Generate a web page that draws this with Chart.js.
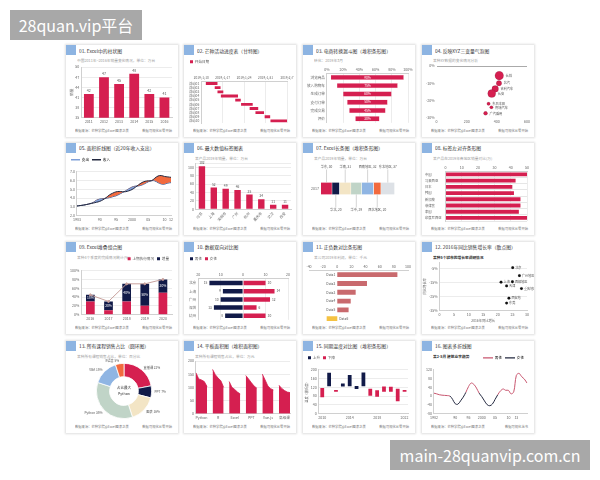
<!DOCTYPE html>
<html><head><meta charset="utf-8">
<script src="https://cdn.jsdelivr.net/npm/chart.js@4.4.1/dist/chart.umd.min.js"></script>
<style>
html,body{margin:0;padding:0;background:#fff;width:600px;height:480px;overflow:hidden;font-family:"Noto Sans CJK SC","Noto Sans",sans-serif}
.card{position:absolute;width:112px;height:92px;background:#fff;box-shadow:0 0 2px 1px rgba(0,0,0,0.13)}
.sq{position:absolute;left:0;top:0;width:10px;height:10px;background:#8db4e2}
.t{position:absolute;left:13px;top:1px;font-size:6px;line-height:9px;color:#333;white-space:nowrap;transform:scale(0.8);transform-origin:0 50%}
.s{position:absolute;left:11px;top:12px;font-size:6px;line-height:7px;color:#a0a0a0;white-space:nowrap;transform:scale(0.62);transform-origin:0 50%}
.card canvas{position:absolute;left:0;top:11px}
.fl{position:absolute;left:9px;top:82px;font-size:6px;line-height:7px;color:#777;white-space:nowrap;transform:scale(0.55);transform-origin:0 50%}
.fr{position:absolute;right:6px;top:82px;font-size:6px;line-height:7px;color:#777;white-space:nowrap;transform:scale(0.55);transform-origin:100% 50%}
.wm{position:absolute;background:#a8a8a8;color:#fff;font-family:"Noto Sans CJK SC","Noto Sans",sans-serif;font-size:16px;line-height:30px;text-align:center;white-space:nowrap}
</style></head><body>
<div class="wm" style="left:10px;top:10px;width:132px;height:30px">28quan.vip平台</div>
<div class="wm" style="left:390px;top:440px;width:200px;height:30px">main-28quanvip.com.cn</div>
<script>
// ---------- data ----------
const c1Years=['2011','2012','2013','2014','2015','2016'];
const c1Sales=[42,47,45,48,42,41];

const c2Tasks=['活动01','活动02','活动03','活动04','活动05','活动06','活动07','活动08','活动09','活动10'];
const c2Start=[1.5,4.4,5.3,6.4,11.1,13,15.8,17.7,20.7,22.6];
const c2End=[5.3,6.3,7.2,12,12.9,16.8,18.6,20.5,22.5,28.2];
const c2DateTicks=['2019/1/10','2019/1/17','2019/1/24','2019/1/31','2019/2/7'];

const c3Steps=['浏览商品','放入购物车','生成订单','支付订单','完成交易','评价'];
const c3Rates=[90,75,60,50,45,30];

const c4Names=['长城','北汽','吉利汽车','长安','东风本田','奇瑞汽车','广汽乘用'];
const c4X=[416,414,389,366,345,364,325];
const c4Y=[-5.6,-10,-13.3,-16,-21.9,-24,-27.5];
const c4Size=[4.3,2.7,3.3,4,1.7,1.7,2];

const c5Labels=['1983','','','','','','','90','','','','','95','','','','','2000','','','','','05','','','','','10','','12'];
const c5Income=[3.10,3.15,3.20,3.27,3.35,3.43,3.52,3.62,3.80,4.05,4.35,4.55,4.70,4.75,4.72,4.72,4.82,4.97,5.22,5.50,5.75,5.90,5.95,5.97,6.25,6.50,6.55,6.45,6.40,6.35];
const c5Expense=[3.10,3.15,3.20,3.27,3.37,3.50,3.75,3.88,3.93,3.98,4.05,4.15,4.25,4.42,4.62,4.82,5.05,5.25,5.35,5.38,5.48,5.65,5.85,5.97,5.95,5.75,5.60,5.58,5.70,5.75];

const c6Cities=['北京','上海','深圳市','广州','杭州','重庆市','武汉','西安'];
const c6Sales=[102,52,49,46,35,24,11,11];

const c7Regions=['华东','华北','华南','华中','西南地区','西北地区','东北地区'];
const c7Sales=[30,20,31,29,32,20,37];

const c8Names=['中国','马来西亚','日本','韩国','新加坡','菲律宾','泰国','印度尼西亚'];
const c8Sales=[50,43,41,42,46,46,45,50];

const c9Cats=['2016','2017','2018','2019','2020'];
const c9Base=[30,10,30,20,50];
const c9Add=[15,20,40,50,30];
const c9Total=[45,30,70,70,80];

const c10Cats=['北京','上海','广州','深圳','杭州'];
const c10Male=[-15,-9,-10,-13,-8];
const c10Female=[10,14,12,6,10];

const c11Items=['Data1','Data2','Data3','Data4','Data5','Data6'];
const c11Profit=[85,42,26,19,16,-15];

const c12Cities=['北京','广州地区','上海','西部地区','天津','重庆地区','西安地','东莞'];
const c12X=[25.1,27.4,21.1,25,23,28.1,23.8,23];
const c12Y=[-4.1,-9.8,-14.5,-14.2,-17.2,-19.1,-26,-29.5];

const c13Courses=['直播课','PPT','图表','Python','VBA','R语言'];
const c13Share=[22,7,16,35,15,5];

const c14Labels=['','','Python','','','', '','','R','','','', '','','Excel','','','', '','','PPT','','','', '','','Vue.js','','','', '','','高级课','',''];
const c14Vals=[155,132,128,122,103,null, 168,148,135,125,100,null, 122,100,92,82,75,null, 145,132,118,105,97,null, 150,128,105,95,90,null, 108,96,88,82,80];

const c15Years=['2010','2011','2012','2013','2014','2015','2016','2017','2018','2019','2020','2021','2022'];
const c15Rise=[null,[125,186],null,[123,137],[125,176],[112,126],[125,187],null,null,null,null,null,null];
const c15Fall=[[74,116],null,[99,108],null,null,null,null,[81,113],[77,106],[99,123],[99,122],[56,113],[99,108]];

const c16Years=['1982','1983','1984','1985','1986','1987','1988','1989','1990','1991','1992','1993','1994','1995','1996','1997','1998','1999','2000','2001','2002','2003','2004','2005','2006','2007','2008','2009','2010','2011','2012','2013','2014','2015','2016','2017'];
const c16TickText={0:'1982',8:'90',13:'95',18:'2000',23:'05',28:'10',31:'13'};
const c16Vals=[13,10,6,4,3,2,0,-15,-35,-37,-22,-5,17,43,59,53,36,13,-3,-22,-39,-44,-36,-15,6,23,32,26,26,10,19,94,103,88,77,59];

// ---------- styles ----------
const RED='#d51f50',NAVY='#111a48',BEIGE='#f3e5c5',SAGE='#c0d4c7',LBLUE='#8fb5e3',ORANGE='#f26a3e',LGRAY='#dde1e6';
const ROSE='#c8566f',DARK='#23283f',YEL='#f5c242',SALMON='#c96a6e';
const FONT='"Noto Sans CJK SC","Noto Sans",sans-serif';
const FS=3.6;
Chart.defaults.font.family=FONT;
Chart.defaults.font.size=FS;
Chart.defaults.color='#666';

function merge(a,b){for(const k in b){const v=b[k];if(v&&typeof v==='object'&&!Array.isArray(v)&&typeof v!=='function'){a[k]=merge(a[k]&&typeof a[k]==='object'?a[k]:{},v);}else a[k]=v;}return a;}
function AX(o){return merge({grid:{color:'#ececec',tickLength:2,drawTicks:false},border:{color:'#d0d0d0'},ticks:{font:{size:FS},color:'#666',padding:2}},o||{});}
function base(o){return merge({responsive:false,animation:false,maintainAspectRatio:false,layout:{padding:{top:9,right:4,bottom:1,left:2}},plugins:{legend:{display:false},tooltip:{enabled:false}}},o||{});}
function txt(ctx,s,x,y,o){o=o||{};ctx.save();ctx.font=(o.weight||'')+' '+(o.size||FS)+'px '+FONT;ctx.fillStyle=o.color||'#555';ctx.textAlign=o.align||'center';ctx.textBaseline=o.base||'middle';ctx.fillText(String(s),x,y);ctx.restore();}
const legSmall={display:true,align:'start',labels:{boxWidth:3,boxHeight:3,font:{size:FS},padding:3,color:'#555'}};

const COLX=[66,184,303,422],ROWY=[45,143,242,341];
function card(col,row,title,sub,cfg,opt){opt=opt||{};
 const d=document.createElement('div');d.className='card';d.style.left=COLX[col]+'px';d.style.top=ROWY[row]+'px';
 d.innerHTML='<div class="sq"></div><div class="t">'+title+'</div>'+(sub?'<div class="s" style="'+(opt.subStyle||'')+'">'+sub+'</div>':'')+
 '<canvas width="112" height="71"></canvas><div class="fl">数据来源：芒种学院@Excel图表之美</div><div class="fr">'+(opt.right||'数据可视化从零开始')+'</div>';
 document.body.appendChild(d);new Chart(d.querySelector('canvas'),cfg);}

// 01
card(0,0,'01. Excel中的柱状图','中国2011年~2016年销量变化情况，单位：万台',{type:'bar',
 data:{labels:c1Years,datasets:[{data:c1Sales,backgroundColor:RED,barPercentage:0.72,categoryPercentage:0.9}]},
 options:base({layout:{padding:{top:11,right:6,left:3}},scales:{x:AX({grid:{display:false}}),y:AX({min:35,max:50,ticks:{stepSize:3},title:{display:true,text:'销量',font:{size:FS},padding:0}})}}),
 plugins:[{id:'l1',afterDatasetsDraw(c){c.getDatasetMeta(0).data.forEach((e,i)=>txt(c.ctx,c1Sales[i],e.x,e.y-1.5,{base:'bottom'}));}}]});

// 02
card(1,0,'02. 芒种活动进度表（甘特图）','',{type:'bar',
 data:{labels:c2Tasks,datasets:[{label:'开始日期',data:c2Start.map((s,i)=>[s,c2End[i]]),backgroundColor:RED,barPercentage:0.8,categoryPercentage:0.85}]},
 options:base({indexAxis:'y',layout:{padding:{top:1,right:9,left:3}},plugins:{legend:legSmall},
  scales:{x:AX({position:'top',min:0,max:28,ticks:{stepSize:7,maxRotation:0,font:{size:3.2},callback:v=>c2DateTicks[v/7]}}),y:AX({grid:{display:false},ticks:{autoSkip:false,font:{size:3.3}}})}})});

// 03
card(2,0,'03. 电商转换漏斗图（堆积条形图）','转化：2019年3月',{type:'bar',
 data:{labels:c3Steps,datasets:[{data:c3Rates.map(v=>(100-v)/2),backgroundColor:'rgba(0,0,0,0)'},{data:c3Rates,backgroundColor:RED,borderColor:'#f3c4cf',borderWidth:0.5}]},
 options:base({indexAxis:'y',datasets:{bar:{barPercentage:0.72,categoryPercentage:0.9}},layout:{padding:{top:9,right:7,left:2}},
  scales:{x:AX({position:'top',stacked:true,min:0,max:100,ticks:{stepSize:20,callback:v=>v+'%'}}),y:AX({stacked:true,grid:{display:false}})}}),
 plugins:[{id:'l3',afterDatasetsDraw(c){c.getDatasetMeta(1).data.forEach((e,i)=>txt(c.ctx,c3Rates[i]+'%',(e.x+e.base)/2,e.y,{color:'#fff',size:3.3}));}}]});

// 04
card(3,0,'04. 反映XYZ三变量气泡图','某种XY数据的变化情况分析',{type:'bubble',
 data:{datasets:[{data:c4X.map((x,i)=>({x:x,y:c4Y[i],r:c4Size[i]})),backgroundColor:RED}]},
 options:base({layout:{padding:{top:10,right:7,left:2}},
  scales:{x:AX({min:0,max:600,ticks:{stepSize:200},grid:{display:false},border:{display:false}}),
   y:AX({min:-30,max:0,ticks:{stepSize:10,callback:v=>v+'%'},border:{display:false},grid:{color:c=>c.tick.value===0?'#aaa':'rgba(0,0,0,0)'}})}}),
 plugins:[{id:'l4',afterDatasetsDraw(c){c.getDatasetMeta(0).data.forEach((e,i)=>txt(c.ctx,c4Names[i],e.x+e.options.radius+2,e.y,{align:'left',size:3.2}));}}]});

// 05
card(0,1,'05. 面积折线图（近20年收入支出）','',{type:'line',
 data:{labels:c5Labels,datasets:[
  {label:'收入',data:c5Income,borderColor:DARK,borderWidth:1,pointRadius:0,tension:0.4,fill:{target:1,above:ORANGE,below:'#7f9fd8'}},
  {label:'支出',data:c5Expense,borderColor:'#3b4a7a',borderWidth:1,pointRadius:0,tension:0.4}]},
 options:base({layout:{padding:{top:1,right:7,left:2}},
  plugins:{legend:{display:true,align:'start',labels:{usePointStyle:true,pointStyleWidth:9,font:{size:FS},padding:3,color:'#555',
   generateLabels:()=>[{text:'支出',strokeStyle:'#7f9fd8',fillStyle:'#7f9fd8',lineWidth:1.5,pointStyle:'line',datasetIndex:1},{text:'收入',strokeStyle:DARK,fillStyle:DARK,lineWidth:1.5,pointStyle:'line',datasetIndex:0}]}}},
  scales:{x:AX({grid:{display:false},ticks:{autoSkip:false,maxRotation:0}}),y:AX({min:2,max:7,ticks:{stepSize:1,callback:v=>v.toFixed(1)}})}})});

// 06
card(1,1,'06. 最大数值标签图表','某产品2019年销量，单位：万台',{type:'bar',
 data:{labels:c6Cities,datasets:[{data:c6Sales,backgroundColor:RED,barPercentage:0.6,categoryPercentage:0.9}]},
 options:base({layout:{padding:{top:9,right:5,left:2}},
  scales:{x:AX({grid:{display:false},ticks:{maxRotation:45,minRotation:45,autoSkip:false}}),y:AX({min:0,max:110,ticks:{stepSize:20,callback:v=>v%20===0?v:''}})}}),
 plugins:[{id:'l6',afterDatasetsDraw(c){c.getDatasetMeta(0).data.forEach((e,i)=>txt(c.ctx,c6Sales[i],e.x,e.y-1.5,{base:'bottom',size:3.3}));}}]});

// 07
const c7Colors=[RED,NAVY,BEIGE,SAGE,LBLUE,ORANGE,LGRAY];
card(2,1,'07. Excel长条图（堆积条形图）','某产品2019年销量，单位：万台',{type:'bar',
 data:{labels:['2017'],datasets:c7Sales.map((v,i)=>({label:c7Regions[i],data:[v],backgroundColor:c7Colors[i],borderColor:'#fff',borderWidth:{left:0,right:0.6,top:0,bottom:0},barThickness:12}))},
 options:base({indexAxis:'y',layout:{padding:{top:12,right:20,left:6,bottom:14}},
  scales:{x:{stacked:true,display:false},y:AX({stacked:true,grid:{display:false},border:{display:false}})}}),
 plugins:[{id:'l7',afterDatasetsDraw(c){const ctx=c.ctx;c.data.datasets.forEach((ds,i)=>{const e=c.getDatasetMeta(i).data[0];const cx=(e.x+e.base)/2;const h=e.height||12;const up=i%2===0;
  const y0=up?e.y-h/2:e.y+h/2,y1=up?y0-13:y0+13;ctx.save();ctx.strokeStyle='#aaa';ctx.lineWidth=0.5;ctx.beginPath();ctx.moveTo(cx,y0);ctx.lineTo(cx,y1);ctx.stroke();ctx.restore();
  txt(ctx,c7Regions[i]+', '+c7Sales[i],cx,up?y1-1:y1+1,{base:up?'bottom':'top',size:3.2});});}}]});

// 08
card(3,1,'08. 标签左对齐条形图','某产品在2019年各地区销量对比(万)',{type:'bar',
 data:{labels:c8Names,datasets:[{data:c8Sales,backgroundColor:RED,barPercentage:0.62,categoryPercentage:1}]},
 options:base({indexAxis:'y',layout:{padding:{top:9,right:7,left:3}},
  scales:{x:AX({position:'top',min:0,max:50,ticks:{stepSize:10}}),y:AX({ticks:{crossAlign:'far',autoSkip:false,font:{size:3.3}},grid:{color:'#e6e6e6'}})}})});

// 09
card(0,2,'09. Excel堆叠组合图','某种4个季度的完成情况统计(%)',{type:'bar',
 data:{labels:c9Cats,datasets:[
  {label:'上期执行情况',data:c9Base,backgroundColor:RED,stack:'s',order:2,barPercentage:0.6},
  {label:'增量',data:c9Add,backgroundColor:NAVY,stack:'s',order:2,barPercentage:0.6},
  {type:'line',label:'合计',data:c9Total,borderColor:'#c9a29e',borderWidth:1,pointRadius:1,pointBackgroundColor:'#c9a29e',stack:'line',order:1}]},
 options:base({layout:{padding:{top:1,right:6,left:2}},
  plugins:{legend:{display:true,align:'end',labels:{boxWidth:3,boxHeight:3,font:{size:FS},padding:3,color:'#555',filter:it=>it.datasetIndex<2}}},
  scales:{x:AX({stacked:true,grid:{display:false}}),y:AX({stacked:true,min:0,max:100,ticks:{stepSize:20,callback:v=>v+'%'}})}}),
 plugins:[{id:'l9',afterDatasetsDraw(c){c.getDatasetMeta(1).data.forEach((e,i)=>txt(c.ctx,c9Add[i]+'%',e.x,(e.y+e.base)/2,{color:'#fff',size:3.3}));}}]});

// 10
card(1,2,'10. 数据双向对比图','',{type:'bar',
 data:{labels:c10Cats,datasets:[{label:'男性',data:c10Male,backgroundColor:NAVY},{label:'女性',data:c10Female,backgroundColor:RED}]},
 options:base({indexAxis:'y',datasets:{bar:{barPercentage:0.55,categoryPercentage:1}},layout:{padding:{top:1,right:8,left:3}},plugins:{legend:legSmall},
  scales:{x:AX({position:'top',stacked:true,min:-20,max:20,ticks:{stepSize:10,callback:v=>Math.abs(v)}}),y:AX({stacked:true,grid:{display:false}})}}),
 plugins:[{id:'l10',afterDatasetsDraw(c){c.getDatasetMeta(0).data.forEach((e,i)=>txt(c.ctx,Math.abs(c10Male[i]),e.x-2,e.y,{align:'right',size:3.3}));
  c.getDatasetMeta(1).data.forEach((e,i)=>txt(c.ctx,c10Female[i],e.x+2,e.y,{align:'left',size:3.3}));}}]});

// 11
card(2,2,'11. 正负数对比条形图','某公司2019年利润，单位：千元',{type:'bar',
 data:{labels:c11Items,datasets:[{data:c11Profit,backgroundColor:c11Profit.map(v=>v<0?YEL:SALMON),barPercentage:0.55,categoryPercentage:1}]},
 options:base({indexAxis:'y',layout:{padding:{top:9,right:7,left:6}},
  scales:{x:AX({position:'top',min:-40,max:100,ticks:{stepSize:20},grid:{display:false}}),y:{display:false}}}),
 plugins:[{id:'l11',afterDatasetsDraw(c){c.getDatasetMeta(0).data.forEach((e,i)=>{const neg=c11Profit[i]<0;txt(c.ctx,c11Items[i],neg?e.base+2:e.base-2,e.y,{align:neg?'left':'right',size:3.3});});}}]});

// 12
card(3,2,'12. 2016年同比销售增长率（散点图）','某种5个城市的增长率调研情况',{type:'scatter',
 data:{datasets:[{data:c12X.map((x,i)=>({x:x,y:c12Y[i]})),backgroundColor:'#111',pointRadius:1.4}]},
 options:base({layout:{padding:{top:9,right:7,left:1}},
  scales:{x:AX({min:0,max:30,ticks:{stepSize:5},grid:{display:false},title:{display:true,text:'2016年同比增长',font:{size:3.3},padding:0}}),
   y:AX({min:-35,max:0,ticks:{stepSize:5,callback:v=>v+'%'},title:{display:true,text:'同比增长率',font:{size:3.3},padding:0}})}}),
 plugins:[{id:'l12',afterDatasetsDraw(c){c.getDatasetMeta(0).data.forEach((e,i)=>txt(c.ctx,c12Cities[i],e.x+2.5,e.y,{align:'left',size:3.1}));}}]},
 {subStyle:'color:#333;font-weight:bold'});

// 13
card(0,3,'13. 所有课程销售占比（圆环图）','某种所有课程销售占比，单位：百分比',{type:'doughnut',
 data:{labels:c13Courses,datasets:[{data:c13Share,backgroundColor:[RED,NAVY,BEIGE,SAGE,LBLUE,ORANGE],borderColor:'#fff',borderWidth:0.8}]},
 options:base({cutout:'52%',layout:{padding:{top:11,bottom:4,left:30,right:26}}}),
 plugins:[{id:'l13',afterDatasetsDraw(c){const ctx=c.ctx;const m=c.getDatasetMeta(0).data;
  m.forEach((a,i)=>{const ang=(a.startAngle+a.endAngle)/2;const r=a.outerRadius+3;const x=a.x+Math.cos(ang)*r,y=a.y+Math.sin(ang)*r;
   txt(ctx,c13Courses[i]+' '+c13Share[i]+'%',x,y,{align:Math.cos(ang)>=0?'left':'right',size:3.2});});
  const a0=m[0];txt(ctx,'占比最大',a0.x,a0.y-3,{size:3.6,color:'#333'});txt(ctx,'Python',a0.x,a0.y+3,{size:3.6,color:'#333'});}}]});

// 14
card(1,3,'14. 平板面积图（堆积面积图）','某种所有课程销售占比，单位：万元',{type:'line',
 data:{labels:c14Labels,datasets:[{data:c14Vals,borderColor:RED,backgroundColor:RED,borderWidth:0.8,pointRadius:0,fill:'origin',spanGaps:false}]},
 options:base({layout:{padding:{top:9,right:6,left:2}},
  scales:{x:AX({grid:{display:false},ticks:{autoSkip:false,maxRotation:0}}),y:AX({min:0,max:200,ticks:{stepSize:50}})}})});

// 15
card(2,3,'15. 同期温度对比图（堆积条形图）','',{type:'bar',
 data:{labels:c15Years,datasets:[{label:'上升',data:c15Rise,backgroundColor:NAVY},{label:'下降',data:c15Fall,backgroundColor:RED}]},
 options:base({datasets:{bar:{grouped:false,barPercentage:0.55,categoryPercentage:1}},layout:{padding:{top:1,right:7,left:2}},plugins:{legend:legSmall},
  scales:{x:AX({grid:{display:false},ticks:{autoSkip:false,maxRotation:0,callback:(v,i)=>i%4===0?c15Years[i]:''}}),
   y:AX({min:0,max:200,ticks:{stepSize:40},title:{display:true,text:'温度（摄氏度）',font:{size:3.2},padding:0}})}})});

// 16
card(3,3,'16. 图表多折线图','某2-5月 建筑业字趋势',{type:'line',
 data:{labels:c16Years,datasets:[{data:c16Vals,borderColor:ROSE,borderWidth:1,pointRadius:0,tension:0.35,
  segment:{borderColor:s=>(s.p0.parsed.y<0||s.p1.parsed.y<0)?DARK:ROSE}}]},
 options:base({layout:{padding:{top:1,right:7,left:2}},
  plugins:{legend:{display:true,align:'end',labels:{usePointStyle:true,pointStyleWidth:10,font:{size:FS},padding:3,color:'#555',
   generateLabels:()=>[{text:'男性',strokeStyle:ROSE,fillStyle:ROSE,lineWidth:1.2,pointStyle:'line',datasetIndex:0},{text:'女性',strokeStyle:DARK,fillStyle:DARK,lineWidth:1.2,pointStyle:'line',datasetIndex:0}]}}},
  scales:{x:AX({grid:{display:false},ticks:{autoSkip:false,maxRotation:0,callback:(v,i)=>c16TickText[i]||''}}),
   y:AX({min:-80,max:120,ticks:{stepSize:40},grid:{display:false}})}})},
 {subStyle:'color:#333;font-weight:bold',right:'数据可视化丛书'});
</script>
</body></html>
